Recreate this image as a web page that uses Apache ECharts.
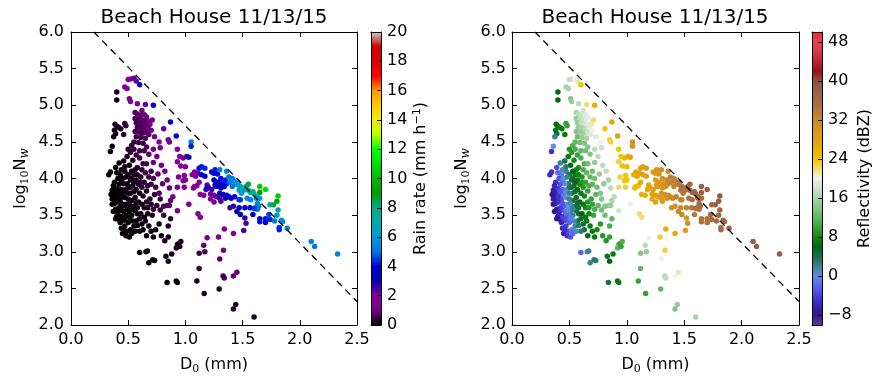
<!DOCTYPE html>
<html><head><meta charset="utf-8">
<script src="https://cdn.jsdelivr.net/npm/echarts@6/dist/echarts.min.js"></script>
<style>html,body{margin:0;padding:0;background:#fff}#c{width:886px;height:386px}</style>
</head><body><div id="c"></div>
<script>
// ---------- data: [D0 (mm), log10Nw, rain rate (mm/h), reflectivity (dBZ)] ----------
const topRidge = [[0.50,5.35,1.8,17],[0.52,5.36,2.0,18],[0.55,5.37,2.2,20],[0.57,5.33,2.3,21],[0.60,5.28,3.8,24],[0.47,5.25,1.6,16],[0.49,5.23,1.6,16],[0.40,5.18,0.2,6],[0.40,5.07,0.2,6],[0.51,5.09,1.4,14],[0.52,5.05,1.4,15],[0.58,5.02,1.7,17],[0.65,5.01,2.2,22],[0.72,5.00,4.0,26]];
const denseCluster = [[0.56,4.90,0.7,16],[0.58,4.88,0.75,17],[0.61,4.86,0.8,18],[0.64,4.87,0.9,19],[0.66,4.84,0.9,19],[0.56,4.82,0.6,15],[0.59,4.81,0.7,17],[0.62,4.80,0.75,18],[0.65,4.79,0.8,19],[0.68,4.78,1.0,20],[0.57,4.76,0.6,15],[0.60,4.75,0.7,17],[0.63,4.74,0.75,18],[0.66,4.73,0.8,19],[0.69,4.74,1.0,21],[0.58,4.70,0.55,15],[0.61,4.69,0.6,16],[0.64,4.68,0.7,17],[0.67,4.70,0.8,19],[0.56,4.64,0.5,14],[0.60,4.63,0.55,15],[0.63,4.62,0.6,16],[0.66,4.63,0.7,18],[0.70,4.66,0.9,20],[0.57,4.57,0.5,13],[0.61,4.56,0.55,15],[0.65,4.55,0.6,16],[0.55,4.50,0.4,12],[0.59,4.49,0.45,13],[0.63,4.48,0.5,14],[0.68,4.60,0.8,19],[0.71,4.80,1.2,22],[0.62,4.93,0.9,18]];
const purpleSpread = [[0.73,4.57,1.4,19],[0.77,4.50,1.6,20],[0.81,4.68,2.3,24],[0.85,4.53,2.1,23],[0.86,4.50,2.1,23],[0.87,4.77,3.5,27],[0.92,4.58,3.8,28],[1.05,4.50,5.3,31],[1.05,4.44,4.2,30],[0.93,4.40,2.0,24],[0.95,4.30,2.0,24],[0.98,4.28,2.1,25],[1.01,4.30,2.3,26],[1.03,4.29,3.0,27],[0.93,4.23,1.8,23],[0.96,4.17,1.9,24],[0.94,4.02,1.6,23],[0.98,3.97,1.8,24],[0.93,3.88,1.5,22],[0.78,4.42,1.3,18],[0.72,4.40,1.1,17],[0.75,4.30,1.0,17],[0.72,4.22,0.9,15],[0.79,4.18,1.0,17],[0.82,4.10,1.0,17],[0.76,4.06,0.8,15],[0.70,4.10,0.6,13],[0.66,4.20,0.6,13],[0.68,4.33,0.8,14],[0.64,4.38,0.6,13],[0.84,3.98,0.9,16],[0.80,3.93,0.8,15],[0.86,3.87,0.9,17],[0.89,3.75,1.0,17],[0.87,3.70,0.9,16],[0.86,3.63,0.7,15],[0.84,3.63,0.7,15],[0.93,3.56,1.0,18],[0.81,3.62,0.6,14],[1.03,3.65,1.6,20],[1.11,3.52,1.9,22],[1.13,3.47,1.9,22],[1.00,4.16,1.9,25],[0.99,4.04,1.7,24]];
const blackCloud = [[0.385,4.74,0.2,6],[0.40,4.71,0.2,6],[0.38,4.66,0.15,5],[0.39,4.61,0.15,5],[0.373,4.57,0.1,2],[0.414,4.70,0.2,7],[0.47,4.75,0.4,10],[0.48,4.72,0.4,10],[0.435,4.68,0.25,7],[0.46,4.60,0.3,7],[0.36,4.44,0.08,0],[0.344,4.37,0.06,-5],[0.33,4.05,0.05,-6],[0.345,4.09,0.05,-5],[0.39,4.15,0.08,-3],[0.42,4.21,0.1,2],[0.46,4.24,0.15,4],[0.49,4.30,0.25,7],[0.52,4.36,0.35,9],[0.50,4.40,0.3,9],[0.53,4.45,0.45,11],[0.55,4.40,0.45,11],[0.51,4.18,0.2,6],[0.54,4.25,0.3,8],[0.57,4.32,0.45,10],[0.60,4.28,0.5,11],[0.58,4.15,0.35,9],[0.62,4.12,0.45,11],[0.65,4.08,0.5,12],[0.55,4.05,0.25,7],[0.61,4.02,0.35,9],[0.68,4.02,0.5,12],[0.72,4.00,0.6,13],[0.70,3.92,0.5,12],[0.74,3.88,0.55,13],[0.77,3.80,0.6,14],[0.73,3.78,0.45,12],[0.78,3.72,0.55,14],[0.75,3.63,0.4,12],[0.72,3.58,0.35,11],[0.78,3.57,0.45,13],[0.81,3.50,0.5,13],[0.71,3.50,0.3,10],[0.67,3.52,0.25,8],[0.64,3.60,0.25,8],[0.66,3.68,0.3,9],[0.69,3.72,0.35,10],[0.63,3.76,0.25,8],[0.66,3.83,0.35,10],[0.62,3.88,0.3,9],[0.59,3.92,0.25,8],[0.57,3.85,0.2,6],[0.60,3.80,0.2,7],[0.56,3.74,0.15,5],[0.59,3.68,0.15,6],[0.62,3.65,0.2,7],[0.58,3.60,0.15,5],[0.55,3.62,0.1,4],[0.53,3.70,0.1,4],[0.52,3.80,0.12,4],[0.54,3.90,0.15,5],[0.52,3.98,0.15,5],[0.49,3.93,0.1,3],[0.48,3.85,0.08,1],[0.46,3.93,0.08,0],[0.44,3.85,0.06,-2],[0.42,3.92,0.05,-3],[0.40,3.86,0.04,-4],[0.38,3.80,0.03,-6],[0.36,3.84,0.03,-7],[0.37,3.75,0.03,-7],[0.39,3.70,0.03,-6],[0.41,3.76,0.04,-4],[0.43,3.72,0.05,-3],[0.45,3.78,0.06,-1],[0.47,3.74,0.07,0],[0.50,3.72,0.08,2],[0.48,3.65,0.06,0],[0.45,3.62,0.05,-2],[0.42,3.60,0.04,-4],[0.39,3.58,0.03,-7],[0.37,3.55,0.03,-8],[0.36,3.65,0.03,-8],[0.40,3.48,0.03,-7],[0.42,3.44,0.03,-6],[0.44,3.48,0.04,-4],[0.46,3.43,0.04,-4],[0.48,3.50,0.05,-2],[0.51,3.55,0.07,1],[0.53,3.50,0.08,2],[0.50,3.40,0.05,-2],[0.47,3.35,0.04,-4],[0.44,3.32,0.03,-6],[0.45,3.25,0.03,-6],[0.48,3.22,0.03,-5],[0.51,3.20,0.04,-3],[0.49,3.28,0.04,-3],[0.52,3.30,0.05,-1],[0.55,3.35,0.07,2],[0.57,3.42,0.08,4],[0.60,3.45,0.1,5],[0.62,3.38,0.1,5],[0.65,3.42,0.12,7],[0.68,3.35,0.12,7],[0.63,3.30,0.08,4],[0.60,3.28,0.07,3],[0.66,3.22,0.1,6],[0.70,3.28,0.12,7],[0.72,3.20,0.12,7],[0.74,3.30,0.15,8],[0.77,3.38,0.2,9],[0.79,3.22,0.18,9],[0.82,3.15,0.2,9],[0.85,3.35,0.3,11],[0.85,3.20,0.25,10],[0.87,3.45,0.35,12],[0.93,3.10,0.4,13],[0.92,3.05,0.35,12],[0.43,4.05,0.06,-1],[0.47,4.10,0.1,2],[0.50,4.05,0.12,4],[0.38,3.95,0.04,-5],[0.41,4.00,0.05,-3],[0.44,3.97,0.06,-2],[0.56,4.12,0.3,8],[0.53,4.10,0.2,6],[0.57,3.98,0.2,7],[0.50,3.88,0.1,3],[0.56,3.56,0.1,4],[0.58,3.52,0.1,5],[0.52,3.62,0.08,2],[0.37,3.90,0.03,-6],[0.35,3.78,0.02,-8],[0.38,3.66,0.03,-7],[0.41,3.68,0.03,-5],[0.43,3.57,0.04,-4],[0.46,3.55,0.05,-2],[0.44,3.66,0.05,-3],[0.47,3.82,0.07,0],[0.50,3.80,0.09,2],[0.51,3.66,0.08,1],[0.49,3.58,0.06,0],[0.53,3.58,0.08,2],[0.55,3.82,0.14,5],[0.57,3.67,0.13,5],[0.54,3.42,0.06,1],[0.51,3.47,0.05,-1],[0.47,3.45,0.04,-3],[0.43,3.40,0.03,-6],[0.41,3.53,0.03,-6],[0.39,3.45,0.03,-8],[0.46,3.30,0.03,-5],[0.53,3.25,0.04,-2],[0.56,3.28,0.05,1],[0.58,3.36,0.07,3],[0.61,3.52,0.12,6],[0.64,3.47,0.14,7],[0.67,3.60,0.2,9],[0.70,3.65,0.3,10],[0.61,3.95,0.3,9],[0.64,3.95,0.35,10],[0.67,3.90,0.4,11],[0.63,4.20,0.5,11],[0.60,4.38,0.55,12],[0.66,4.43,0.7,14],[0.52,3.88,0.13,4],[0.45,4.00,0.08,0],[0.48,4.02,0.1,2],[0.42,3.82,0.05,-3],[0.40,3.75,0.04,-5],[0.36,3.72,0.03,-7],[0.55,3.95,0.18,6],[0.58,4.05,0.28,8],[0.53,4.00,0.15,5],[0.44,4.12,0.1,1],[0.47,4.16,0.12,3],[0.40,4.08,0.06,-2]];
const lowScatter = [[0.60,2.99,0.03,-2],[0.655,3.00,0.05,1],[0.668,3.01,0.05,2],[0.68,2.85,0.04,2],[0.715,2.89,0.05,3],[0.73,2.88,0.05,3],[0.83,2.94,0.1,5],[0.85,2.87,0.1,6],[0.88,2.97,0.12,7],[0.84,2.58,0.06,4],[0.92,2.60,0.1,7],[0.93,2.58,0.1,7],[0.95,3.07,0.2,10],[0.94,3.11,0.2,10],[0.96,3.14,0.25,11],[1.10,2.60,0.25,10],[1.164,2.43,0.25,10],[1.12,2.98,0.5,14],[1.17,3.00,0.6,15],[1.12,2.77,0.4,12],[1.16,3.09,0.8,17],[1.19,3.19,1.0,20],[1.29,3.20,1.5,23],[1.34,3.31,1.9,26],[1.42,3.25,2.0,27],[1.51,3.29,2.4,29],[1.52,3.46,2.6,30],[1.295,2.49,0.3,12],[1.30,2.90,0.8,20],[1.333,3.02,1.0,23],[1.33,2.67,0.6,17],[1.34,2.64,0.6,17],[1.42,2.67,0.8,20],[1.45,2.72,0.9,21],[1.42,2.22,0.3,14],[1.44,2.28,0.35,15],[1.60,2.11,0.3,16]];
const mainCluster = [[1.12,4.14,4.0,28],[1.14,4.16,4.2,28],[1.17,4.14,4.3,29],[1.08,4.09,2.0,27],[1.11,4.07,2.2,27],[1.06,4.05,1.9,26],[1.09,4.03,2.0,27],[1.14,4.05,3.5,28],[1.17,4.03,3.6,28],[1.00,3.98,1.7,24],[0.99,3.88,1.6,23],[1.08,3.89,1.8,25],[1.07,3.87,1.8,25],[1.13,3.78,1.9,26],[1.19,3.91,2.3,27],[1.20,3.88,2.3,27],[1.23,3.85,2.5,28],[1.18,3.85,2.2,27],[1.23,4.09,3.8,29],[1.25,4.07,3.9,29],[1.26,4.12,4.2,30],[1.28,4.06,4.0,30],[1.30,4.12,5.3,31],[1.36,4.10,5.5,32],[1.25,3.98,3.3,29],[1.28,3.95,3.5,30],[1.31,4.00,4.0,31],[1.32,3.93,3.8,31],[1.35,3.98,4.3,32],[1.36,3.93,4.3,32],[1.34,3.89,4.0,31],[1.31,3.87,3.5,30],[1.30,3.91,3.6,30],[1.27,3.89,3.0,29],[1.38,4.02,5.0,33],[1.41,4.00,5.2,33],[1.39,3.95,5.0,33],[1.42,3.97,5.4,33],[1.44,3.93,5.5,34],[1.41,3.89,5.0,33],[1.46,3.91,6.0,34],[1.45,3.95,6.0,34],[1.48,3.89,6.5,35],[1.47,3.84,6.3,35],[1.50,3.87,6.8,35],[1.51,3.84,6.8,35],[1.53,3.89,7.2,36],[1.49,3.80,6.0,34],[1.55,3.84,7.5,36],[1.57,3.81,7.5,36],[1.59,3.82,7.8,37],[1.60,3.79,7.6,37],[1.62,3.75,7.3,37],[1.64,3.73,7.0,37],[1.55,3.92,8.5,37],[1.65,3.89,10.5,38],[1.70,3.85,11.0,38],[1.65,3.81,9.0,38],[1.81,3.76,10.5,39],[1.80,3.69,9.5,38],[1.77,3.64,8.5,38],[1.74,3.64,8.0,37],[1.81,3.57,7.5,37],[1.80,3.50,6.0,37],[1.54,3.73,5.5,35],[1.57,3.71,5.5,35],[1.62,3.73,5.8,36],[1.65,3.73,6.0,36],[1.63,3.66,5.5,36],[1.64,3.62,5.3,36],[1.61,3.60,5.0,35],[1.63,3.58,5.0,35],[1.30,3.80,3.2,30],[1.33,3.78,3.3,31],[1.36,3.77,3.5,31],[1.35,3.73,3.3,31],[1.38,3.75,3.6,32],[1.40,3.73,3.8,32],[1.43,3.75,4.0,33],[1.47,3.71,4.2,33],[1.27,3.75,2.4,29],[1.30,3.73,2.5,29],[1.31,3.69,2.4,29],[1.22,3.79,2.2,28],[1.25,3.77,2.3,28],[1.39,3.60,2.5,31],[1.42,3.62,2.7,31],[1.47,3.60,3.5,32],[1.52,3.60,3.8,33],[1.565,3.60,4.0,34],[1.53,3.39,2.5,31],[1.45,3.55,3.3,32],[1.48,3.51,3.4,32],[1.59,3.51,4.0,34],[1.65,3.45,4.0,35],[1.65,3.41,3.8,35],[1.70,3.45,4.2,35],[1.70,3.40,4.0,35],[1.73,3.51,4.6,36],[1.74,3.44,4.3,36],[1.78,3.42,5.0,36],[1.84,3.43,5.5,37],[1.85,3.41,5.5,37],[1.82,3.33,4.5,36],[1.82,3.30,4.3,36],[1.89,3.32,5.3,37],[2.10,3.14,5.3,38],[2.13,3.07,5.0,38],[2.33,2.97,5.3,39],[1.10,3.90,2.0,25],[1.12,3.95,2.0,26],[1.16,3.77,1.9,26],[1.22,3.72,2.0,27],[1.25,3.68,2.0,28],[1.19,3.87,3.5,28],[1.26,3.91,3.6,29],[1.48,3.71,4.5,33],[1.60,3.59,4.5,35]];

// dashed reference line
const refLineD0 = [0.2, 2.5];
const refLineNw = [6.0, 2.32];

// axes
const d0Range = [0, 2.5];
const nwRange = [2, 6];
const rainRange = [0, 20];
const dbzRange = [-10, 50];
const dbzTicks = [-8, 0, 8, 16, 24, 32, 40, 48];

// colour maps
const rainColors = ['#000000','#770088','#880099','#0000aa','#0000dd','#0077dd','#0099dd','#00aaaa','#00aa88','#009900','#00bb00','#00dd00','#00ff00','#bbff00','#eeee00','#ffcc00','#ff9900','#ff0000','#dd0000','#cc0000','#cccccc'];
const dbzColors = ['#6f2f9a','#2e1a8e','#3a22b4','#4a3cdc','#5a66ec','#5b8fe0','#3a8290','#17704a','#006a10','#108a10','#38a238','#62b662','#86c486','#a8d4a8','#cde5cd','#f0f0ec','#f2dc70','#f0c400','#e8b000','#e0a212','#d6961e','#c98a2c','#b67838','#a46a40','#966048','#8a5248','#9c1018','#bc2434','#d4384c','#e4425e','#ff2020'];

const points = [].concat(blackCloud, lowScatter, denseCluster, purpleSpread, topRidge, mainCluster);
const refLine = refLineD0.map((d, i) => [d, refLineNw[i]]);

const FONT = 'DejaVu Sans';
const rich = {
  m: {fontSize: 16, fontFamily: FONT, color: '#000', lineHeight: 20, verticalAlign: 'middle'},
  s: {fontSize: 11, fontFamily: 'DejaVu Serif', color: '#000', lineHeight: 10, verticalAlign: 'bottom'},
  w: {fontSize: 12, fontFamily: 'DejaVu Serif', fontStyle: 'italic', color: '#000', lineHeight: 10, verticalAlign: 'bottom'},
  p: {fontSize: 11, fontFamily: FONT, color: '#000', lineHeight: 10, verticalAlign: 'top'}
};
const blk = {color: '#000', width: 1};

function xAxes(gi) {
  const base = {type: 'value', gridIndex: gi, min: d0Range[0], max: d0Range[1], interval: 0.5,
    axisLine: {show: true, onZero: false, lineStyle: blk}, splitLine: {show: false},
    axisTick: {show: true, inside: true, length: 5, lineStyle: blk}};
  return [
    Object.assign({}, base, {position: 'bottom',
      axisLabel: {color: '#000', fontSize: 16, fontFamily: FONT, margin: 7, formatter: v => v.toFixed(1)},
      name: '{m|D}{s|0}{m| (mm)}', nameLocation: 'middle', nameGap: 30, nameTextStyle: {rich}}),
    Object.assign({}, base, {position: 'top', axisLabel: {show: false}})
  ];
}
function yAxes(gi, margin) {
  const base = {type: 'value', gridIndex: gi, min: nwRange[0], max: nwRange[1], interval: 0.5,
    axisLine: {show: true, onZero: false, lineStyle: blk}, splitLine: {show: false},
    axisTick: {show: true, inside: true, length: 5, lineStyle: blk}};
  return [
    Object.assign({}, base, {position: 'left',
      axisLabel: {color: '#000', fontSize: 16, fontFamily: FONT, margin: margin, formatter: v => v.toFixed(1)},
      name: '{m|log}{s|10}{m|N}{w|w}', nameLocation: 'middle', nameRotate: 90, nameGap: 40, nameTextStyle: {rich}}),
    Object.assign({}, base, {position: 'right', axisLabel: {show: false}})
  ];
}
function cbAxes(gi, range, name, gap, custom, interval) {
  const ys = {type: 'value', gridIndex: gi, min: range[0], max: range[1], position: 'right', z: 10,
    axisLine: {show: true, onZero: false, lineStyle: blk}, splitLine: {show: false},
    axisTick: {show: true, inside: true, length: 4, lineStyle: blk},
    axisLabel: {color: '#000', fontSize: 16, fontFamily: FONT, margin: 6, formatter: v => String(v).replace('-', '\u2212')},
    name: name, nameLocation: 'middle', nameRotate: 90, nameGap: gap, nameTextStyle: {rich}};
  if (custom) { ys.axisLabel.customValues = custom; ys.axisTick.customValues = custom; } else { ys.interval = interval; }
  const yl = {type: 'value', gridIndex: gi, min: range[0], max: range[1], position: 'left', z: 10,
    axisLine: {show: true, onZero: false, lineStyle: blk}, axisTick: {show: false}, axisLabel: {show: false}, splitLine: {show: false}};
  const xb = {type: 'value', gridIndex: gi, min: 0, max: 1, position: 'bottom', z: 10,
    axisLine: {show: true, onZero: false, lineStyle: blk}, axisTick: {show: false}, axisLabel: {show: false}, splitLine: {show: false}};
  const xt = Object.assign({}, xb, {position: 'top'});
  return {x: [xb, xt], y: [ys, yl]};
}
function gradient(colors) {
  return new echarts.graphic.LinearGradient(0, 1, 0, 0, colors.map((c, i) => ({offset: i / (colors.length - 1), color: c})));
}
function colorbar(xi, yi, range, colors) {
  return {type: 'custom', xAxisIndex: xi, yAxisIndex: yi, silent: true, z: 1,
    data: [[0, range[0], range[1]]], encode: {x: 0, y: [1, 2]},
    renderItem: (params, api) => {
      const cs = params.coordSys;
      const top = api.coord([0, api.value(2)]);
      const bot = api.coord([0, api.value(1)]);
      return {type: 'rect', shape: {x: cs.x, y: top[1], width: cs.width, height: bot[1] - top[1]}, style: {fill: gradient(colors)}};
    }};
}

const cbL = cbAxes(2, rainRange, '{m|Rain rate (mm h}{p|\u22121}{m|)}', 30, null, 2);
const cbR = cbAxes(3, dbzRange, '{m|Reflectivity (dBZ)}', 33, dbzTicks, null);

const titleStyle = {fontSize: 20, fontWeight: 'normal', fontFamily: FONT, color: '#000'};
const dashStyle = {color: '#000', width: 1.3, type: [7, 5]};
const option = {
  animation: false,
  backgroundColor: '#fff',
  textStyle: {fontFamily: FONT},
  title: [
    {text: 'Beach House 11/13/15', left: 214, top: 8, textAlign: 'center', padding: 0, textStyle: titleStyle},
    {text: 'Beach House 11/13/15', left: 655, top: 8, textAlign: 'center', padding: 0, textStyle: titleStyle}
  ],
  grid: [
    {left: 71, top: 32, width: 286, height: 293},
    {left: 512, top: 32, width: 287, height: 293},
    {left: 371, top: 32, width: 10, height: 293},
    {left: 812, top: 32, width: 10, height: 293}
  ],
  xAxis: [].concat(xAxes(0), xAxes(1), cbL.x, cbR.x),
  yAxis: [].concat(yAxes(0, 7), yAxes(1, 6), cbL.y, cbR.y),
  visualMap: [
    {type: 'continuous', show: false, seriesIndex: 0, dimension: 2, min: rainRange[0], max: rainRange[1], inRange: {color: rainColors}},
    {type: 'continuous', show: false, seriesIndex: 2, dimension: 3, min: dbzRange[0], max: dbzRange[1], inRange: {color: dbzColors}}
  ],
  series: [
    {type: 'scatter', xAxisIndex: 0, yAxisIndex: 0, data: points, encode: {x: 0, y: 1}, symbolSize: 5.5, itemStyle: {opacity: 1}, silent: true},
    {type: 'line', xAxisIndex: 0, yAxisIndex: 0, data: refLine, showSymbol: false, silent: true, lineStyle: dashStyle, z: 3},
    {type: 'scatter', xAxisIndex: 2, yAxisIndex: 2, data: points, encode: {x: 0, y: 1}, symbolSize: 5.5, itemStyle: {opacity: 1}, silent: true},
    {type: 'line', xAxisIndex: 2, yAxisIndex: 2, data: refLine, showSymbol: false, silent: true, lineStyle: dashStyle, z: 3},
    colorbar(4, 4, rainRange, rainColors),
    colorbar(6, 6, dbzRange, dbzColors)
  ]
};
const chart = echarts.init(document.getElementById('c'), null, {renderer: 'canvas'});
chart.setOption(option);
</script></body></html>
